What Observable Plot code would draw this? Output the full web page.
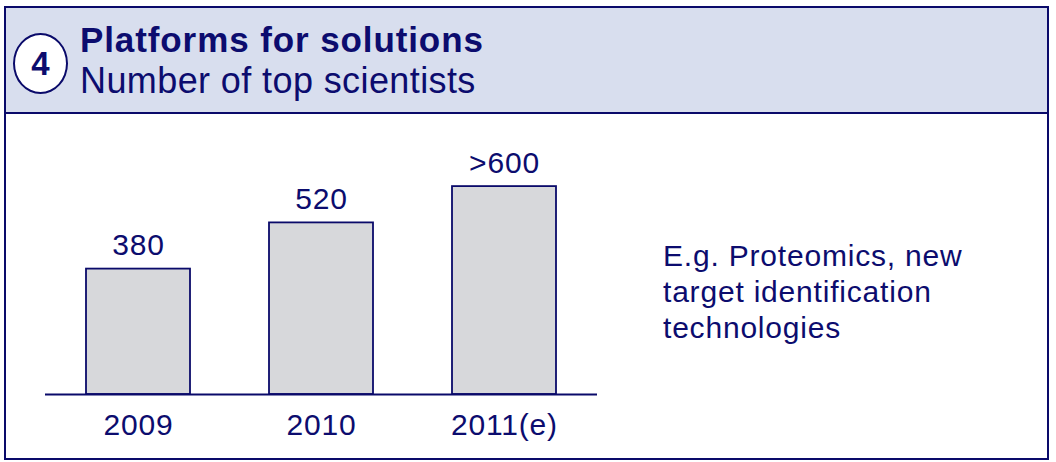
<!DOCTYPE html>
<html>
<head>
<meta charset="utf-8">
<script src="https://cdn.jsdelivr.net/npm/d3@7"></script>
<script src="https://cdn.jsdelivr.net/npm/@observablehq/plot@0.6"></script>
<style>
  html, body { margin: 0; padding: 0; background: #fff; }
  body { width: 1056px; height: 462px; position: relative; overflow: hidden;
         font-family: "Liberation Sans", Arial, Helvetica, sans-serif; color: #0c0c6e; }
  #frame { position: absolute; left: 4px; top: 6px; width: 1045px; height: 454px;
           border: 2px solid #0a0a6a; box-sizing: border-box; }
  #header { position: absolute; left: 4px; top: 6px; width: 1045px; height: 108px;
            background: #d8deee; border: 2px solid #0a0a6a; box-sizing: border-box; }
  #badge { position: absolute; left: 13px; top: 33px; width: 55px; height: 61px;
           border: 2px solid #0a0a6a; border-radius: 50%; background: #fff; box-sizing: border-box;
           font-weight: bold; font-size: 33px; line-height: 57px; text-align: center; }
  .t { position: absolute; white-space: nowrap; }
  #title { left: 80px; top: 20px; font-size: 35px; font-weight: bold; line-height: 40px; letter-spacing: 0.9px; }
  #subtitle { left: 80px; top: 61px; font-size: 36px; line-height: 40px; letter-spacing: 0.4px; }
  #note { left: 663px; top: 238px; font-size: 30px; line-height: 36px; letter-spacing: 0.8px; }
  #chart { position: absolute; left: 0; top: 114px; }
  #chart svg text { letter-spacing: 0.8px; }
</style>
</head>
<body>
<div id="frame"></div>
<div id="header"></div>
<div id="badge">4</div>
<div class="t" id="title">Platforms for solutions</div>
<div class="t" id="subtitle">Number of top scientists</div>
<div class="t" id="note">E.g. Proteomics, new<br>target identification<br>technologies</div>
<div id="chart"></div>
<script>
const years = ["2009", "2010", "2011(e)"];
const scientists = [380, 520, 630];
const valueLabels = ["380", "520", ">600"];

const data = years.map((y, i) => ({year: y, value: scientists[i], label: valueLabels[i]}));
const navy = "#0a0a6a";

const chart = Plot.plot({
  width: 620,
  height: 346,
  marginLeft: 45,
  marginRight: 23,
  marginTop: 16,
  marginBottom: 66,
  style: {fontFamily: "'Liberation Sans', Arial, sans-serif", color: "#0c0c6e", background: "transparent"},
  x: {domain: years, paddingInner: 0.4317, paddingOuter: 0.2224, label: null},
  y: {domain: [0, 800], axis: null},
  marks: [
    Plot.barY(data, {x: "year", y: "value", fill: "#d7d8db", stroke: navy, strokeWidth: 1.8}),
    Plot.ruleY([0], {stroke: navy, strokeWidth: 1.8}),
    Plot.text(data, {x: "year", y: "value", text: "label", lineAnchor: "bottom", dy: -14,
                     fontSize: 30, fill: "#0c0c6e"}),
    Plot.axisX({tickSize: 0, tickPadding: 19, fontSize: 30, fill: "#0c0c6e", label: null})
  ]
});
document.getElementById("chart").appendChild(chart);
</script>
</body>
</html>
